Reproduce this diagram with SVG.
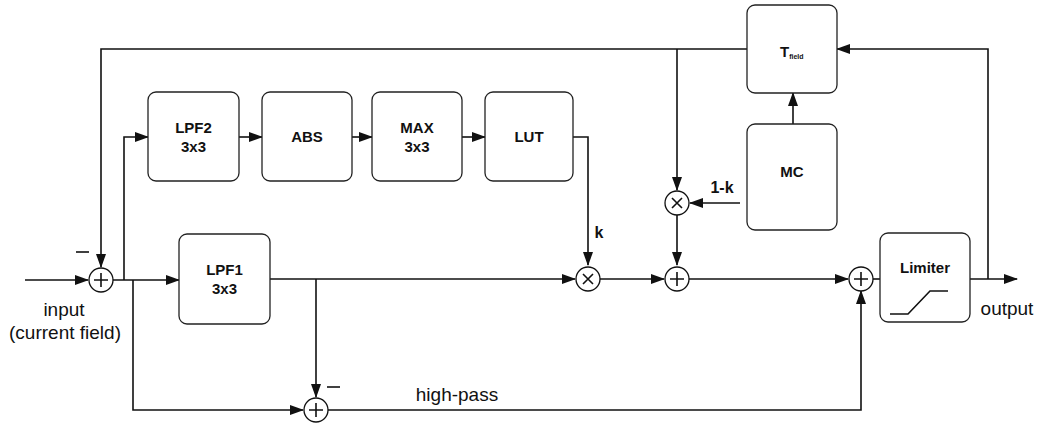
<svg xmlns="http://www.w3.org/2000/svg" width="1040" height="426" viewBox="0 0 1040 426">
<style>
.box{fill:#fff;stroke:#222;stroke-width:1.3}
.ln{fill:none;stroke:#111;stroke-width:1.6}
.c{fill:#fff;stroke:#111;stroke-width:1.3}
.t{font-family:"Liberation Sans",Arial,sans-serif;font-size:15px;font-weight:bold;fill:#111;text-anchor:middle}
.l{font-family:"Liberation Sans",Arial,sans-serif;font-size:19px;fill:#111;text-anchor:middle}
</style>
<defs>
<marker id="a" markerWidth="14" markerHeight="10" refX="13" refY="5" orient="auto" markerUnits="userSpaceOnUse">
<path d="M0,0 L14,5 L0,10 Z" fill="#111"/>
</marker>
</defs>
<rect width="1040" height="426" fill="#fff"/>
<g id="connectors">
<path class="ln" d="M25,280 H88" marker-end="url(#a)"/>
<path class="ln" d="M747,49 H101 V267" marker-end="url(#a)"/>
<path class="ln" d="M113,280 H179" marker-end="url(#a)"/>
<path class="ln" d="M124,280 V137 H148" marker-end="url(#a)"/>
<path class="ln" d="M133,280 V410 H303" marker-end="url(#a)"/>
<path class="ln" d="M239,137 H262" marker-end="url(#a)"/>
<path class="ln" d="M352,137 H372" marker-end="url(#a)"/>
<path class="ln" d="M462,137 H485" marker-end="url(#a)"/>
<path class="ln" d="M573,137 H588 V265" marker-end="url(#a)"/>
<path class="ln" d="M270,279 H575" marker-end="url(#a)"/>
<path class="ln" d="M316,279 V397" marker-end="url(#a)"/>
<path class="ln" d="M600,279 H664" marker-end="url(#a)"/>
<path class="ln" d="M677,49 V190" marker-end="url(#a)"/>
<path class="ln" d="M740,203 H690" marker-end="url(#a)"/>
<path class="ln" d="M677,215 V265" marker-end="url(#a)"/>
<path class="ln" d="M689,279 H848" marker-end="url(#a)"/>
<path class="ln" d="M328,410 H861 V291" marker-end="url(#a)"/>
<path class="ln" d="M873,279 H880"/>
<path class="ln" d="M970,279 H1017" marker-end="url(#a)"/>
<path class="ln" d="M988,279 V49 H837" marker-end="url(#a)"/>
<path class="ln" d="M793,124 V93" marker-end="url(#a)"/>
</g>
<g id="sum1"><circle class="c" cx="101" cy="280" r="12"/><path class="ln" d="M94,280 H108 M101,273 V287" stroke-width="1.3"/></g>
<g id="sum2"><circle class="c" cx="316" cy="410" r="12"/><path class="ln" d="M309,410 H323 M316,403 V417" stroke-width="1.3"/></g>
<g id="mul1"><circle class="c" cx="588" cy="279" r="12"/><path class="ln" d="M583,274 L593,284 M593,274 L583,284" stroke-width="1.3"/></g>
<g id="sum3"><circle class="c" cx="677" cy="279" r="12"/><path class="ln" d="M670,279 H684 M677,272 V286" stroke-width="1.3"/></g>
<g id="mul2"><circle class="c" cx="677" cy="203" r="12"/><path class="ln" d="M672,198 L682,208 M682,198 L672,208" stroke-width="1.3"/></g>
<g id="sum4"><circle class="c" cx="861" cy="279" r="12"/><path class="ln" d="M854,279 H868 M861,272 V286" stroke-width="1.3"/></g>
<g id="lpf2"><rect class="box" x="148" y="92" width="91" height="89" rx="8"/><text class="t" x="193.5" y="133">LPF2</text><text class="t" x="193.5" y="152">3x3</text></g>
<g id="abs"><rect class="box" x="262" y="92" width="90" height="89" rx="8"/><text class="t" x="307" y="142">ABS</text></g>
<g id="max"><rect class="box" x="372" y="92" width="90" height="89" rx="8"/><text class="t" x="417" y="133">MAX</text><text class="t" x="417" y="152">3x3</text></g>
<g id="lut"><rect class="box" x="485" y="92" width="88" height="89" rx="8"/><text class="t" x="529" y="142">LUT</text></g>
<g id="lpf1"><rect class="box" x="179" y="234" width="91" height="90" rx="8"/><text class="t" x="224.5" y="275">LPF1</text><text class="t" x="224.5" y="294">3x3</text></g>
<g id="tfield"><rect class="box" x="747" y="5" width="90" height="88" rx="8"/><text class="t" x="780" y="57" style="text-anchor:start">T<tspan font-size="7" dy="2" fill="#111">field</tspan></text></g>
<g id="mc"><rect class="box" x="747" y="124" width="90" height="106" rx="8"/><text class="t" x="792" y="177">MC</text></g>
<g id="limiter"><rect class="box" x="880" y="233" width="90" height="89" rx="8"/><text class="t" x="925" y="273">Limiter</text><path class="ln" d="M890,314 H908 L930,291 H948" stroke-width="1.3"/></g>
<g id="labels">
<text class="l" x="64" y="316">input</text>
<text class="l" x="65" y="339">(current field)</text>
<text class="l" x="1007" y="315">output</text>
<text class="l" x="457" y="401">high-pass</text>
<text class="t" x="599" y="238" style="font-size:16px">k</text>
<text class="t" x="722" y="193" style="font-size:16px">1-k</text>
<path class="ln" d="M76,252 H89"/>
<path class="ln" d="M327,387 H340"/>
</g>
</svg>
